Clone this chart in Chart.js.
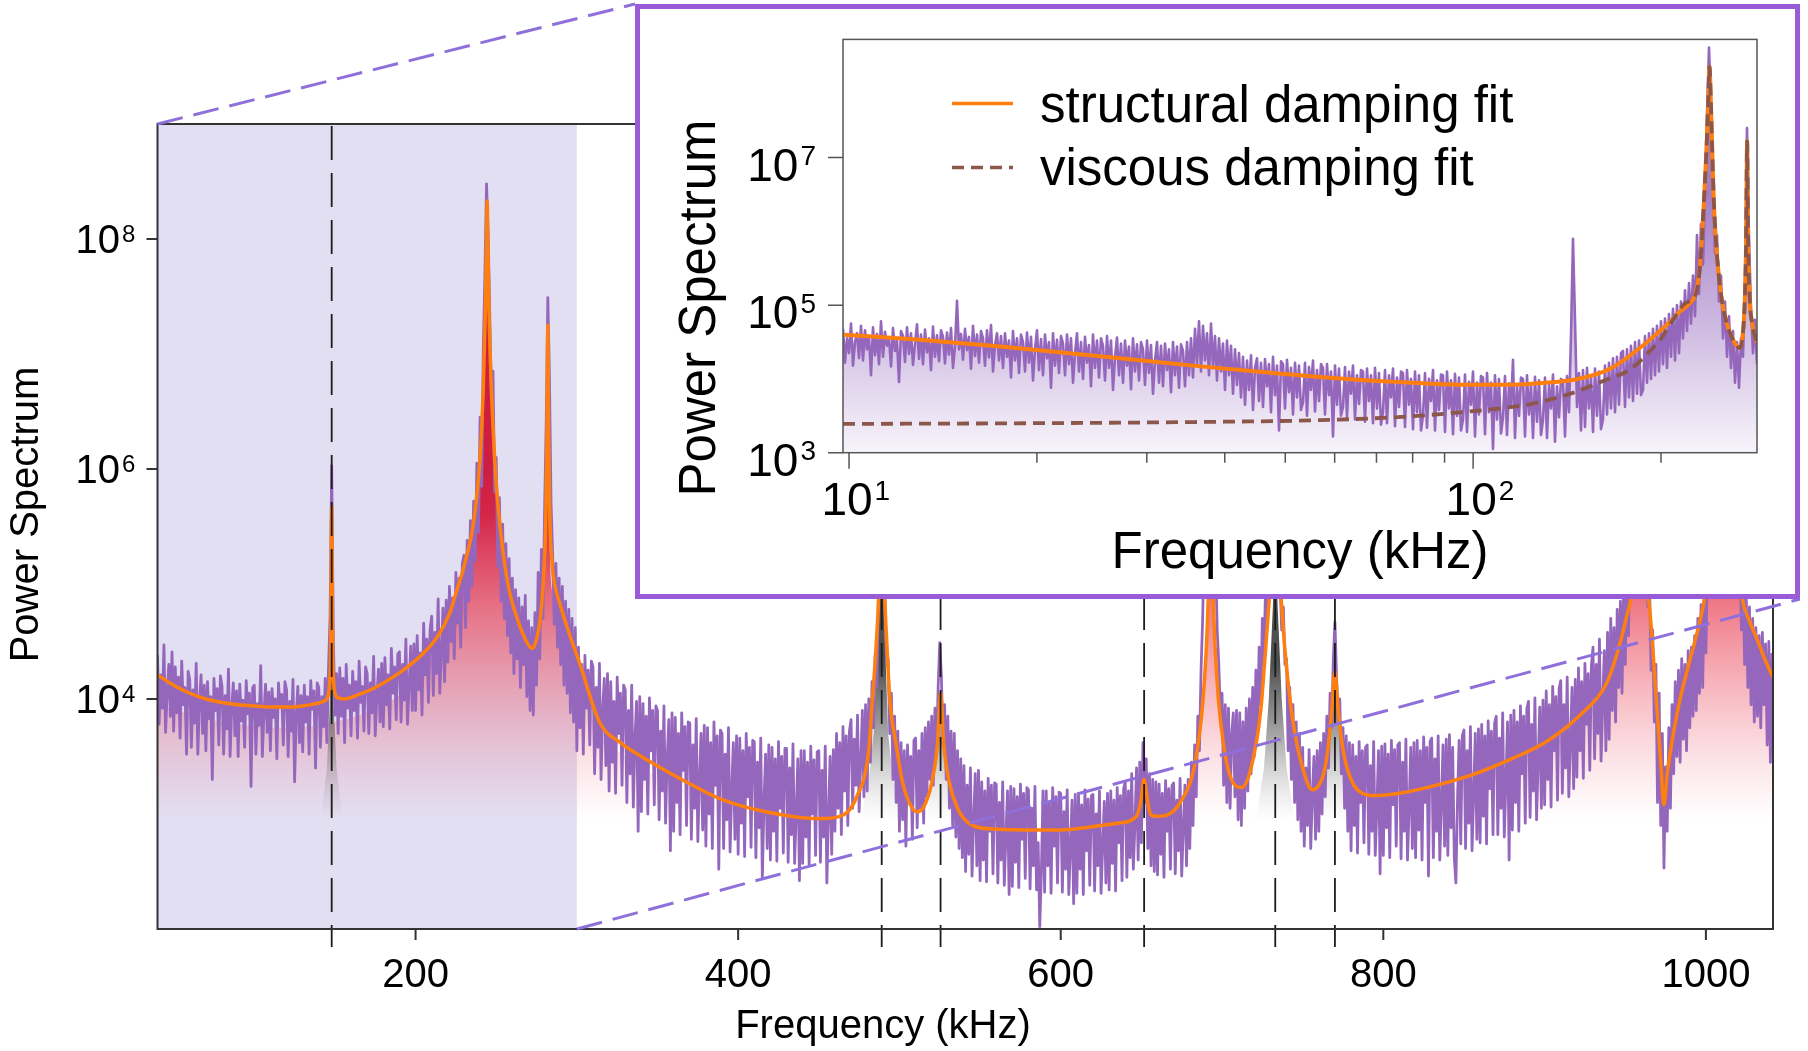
<!DOCTYPE html>
<html lang="en">
<head>
<meta charset="utf-8">
<title>Power spectrum with damping fits</title>
<script src="https://cdn.jsdelivr.net/npm/chart.js@4.4.1/dist/chart.umd.min.js"></script>
<style>
  html, body { margin: 0; padding: 0; background: #fff; }
  #stage { position: relative; width: 1808px; height: 1051px; overflow: hidden; background: #fff; }
  #main { position: absolute; left: 0; top: 0; }
  #insetBox { position: absolute; left: 635px; top: 4px; width: 1165px; height: 595px; box-sizing: border-box; border: 5px solid #9a5bd6; background: #fff; }
  #inset { position: absolute; left: 0; top: 0; }
</style>
</head>
<body>
<div id="stage">
  <canvas id="main" width="1808" height="1051"></canvas>
  <div id="insetBox"><canvas id="inset" width="1155" height="585"></canvas></div>
</div>
<script>
const FONT = '"Liberation Sans", Arial, Helvetica, sans-serif';

// ================= main panel: linear frequency axis =================
const MAIN_X_RANGE = [40, 1041.6];          // kHz
const MAIN_Y_RANGE = [1e2, 1e9];
const zoomBand = [40, 300];                 // region enlarged in the inset
const mainXTicks = [200, 400, 600, 800, 1000];
const mainYTickExponents = [4, 6, 8];
const modeLines = [148, 489, 525.5, 651.7, 733, 770];   // dashed resonance markers (kHz)

// measured spectrum, log10(power), one sample per kHz starting at 40 kHz
const SPEC_START_KHZ = 40;
const SPEC_STEP_KHZ = 1;
const spectrumLog = [
  4.38,3.78,4.21,3.92,4.47,3.71,4.05,4.30,3.85,4.41, // 40
  3.72,4.28,3.88,4.19,3.66,4.33,3.95,4.10,3.52,4.24, // 50
  4.17,3.58,4.08,3.79,4.31,3.52,3.97,4.21,3.70,4.12, // 60
  3.55,4.15,3.83,4.02,3.30,4.18,3.90,4.09,3.60,4.20, // 70
  4.11,3.52,4.03,3.74,4.26,3.50,3.92,4.14,3.68,4.07, // 80
  3.50,4.13,3.81,3.99,3.58,4.16,3.87,4.05,3.24,4.10, // 90
  4.12,3.52,3.96,3.77,4.29,3.50,3.88,4.13,3.71,4.06, // 100
  3.55,4.09,3.84,4.00,3.48,4.14,3.93,4.04,3.60,4.15, // 110
  4.08,3.50,3.98,3.72,4.17,3.28,3.86,4.11,3.62,4.03, // 120
  3.54,4.12,3.80,4.02,3.52,4.16,3.91,4.07,3.40,4.14, // 130
  4.10,3.58,4.02,3.76,4.18,3.62,4.25,4.72,6.03,4.55, // 140
  3.86,4.22,3.70,4.27,3.85,4.18,3.62,4.30,3.92,4.12, // 150
  3.68,4.24,3.90,4.15,3.66,4.33,3.97,4.11,3.72,4.28, // 160
  4.22,3.70,4.14,3.88,4.37,3.68,4.02,4.26,3.80,4.31, // 170
  3.76,4.36,3.95,4.21,3.74,4.44,4.05,4.28,3.82,4.39, // 180
  4.41,3.80,4.30,3.99,4.52,3.78,4.12,4.46,3.90,4.48, // 190
  3.90,4.55,4.08,4.40,3.86,4.66,4.21,4.52,3.97,4.60, // 200
  4.72,4.03,4.58,4.22,4.87,4.05,4.41,4.79,4.15,4.86, // 210
  4.32,4.98,4.50,4.88,4.35,5.10,4.66,5.05,4.45,5.18, // 220
  5.25,4.62,5.38,4.85,5.55,4.98,5.72,5.20,6.05,5.45, // 230
  6.45,5.85,7.05,7.70,8.48,8.05,7.35,6.60,6.85,5.80, // 240
  6.10,5.15,5.75,4.85,5.52,4.70,5.35,4.55,5.22,4.40, // 250
  5.05,4.22,4.95,4.35,4.88,4.10,4.80,4.30,4.90,4.02, // 260
  4.68,3.90,4.62,3.86,4.75,4.12,5.10,4.35,5.30,4.70, // 270
  5.65,6.40,7.49,6.80,5.70,5.25,4.65,5.18,4.45,5.05, // 280
  4.30,4.98,4.12,4.85,4.05,4.78,3.88,4.70,3.80,4.62, // 290
  3.55,4.45,3.75,4.30,3.52,4.38,3.92,4.25,3.60,4.33, // 300
  4.28,3.35,4.10,3.58,4.31,3.30,3.90,4.18,3.42,4.22, // 310
  3.20,4.15,3.45,3.98,3.18,4.19,3.70,4.05,3.25,4.12, // 320
  4.08,3.10,3.90,3.35,4.12,3.06,3.65,3.98,2.85,4.02, // 330
  3.02,3.96,3.30,3.85,3.00,4.01,3.55,3.90,3.08,3.94, // 340
  3.90,2.95,3.72,3.20,3.94,2.92,3.48,3.82,2.68,3.88, // 350
  2.85,3.84,3.10,3.70,2.82,3.88,3.38,3.76,2.90,3.80, // 360
  3.79,2.78,3.60,3.05,3.83,2.76,3.30,3.70,2.86,3.77, // 370
  2.72,3.75,3.00,3.62,2.70,3.80,3.25,3.68,2.52,3.73, // 380
  3.70,2.70,3.52,2.95,3.75,2.67,3.20,3.62,2.78,3.68, // 390
  2.65,3.66,2.92,3.55,2.63,3.70,3.15,3.58,2.71,3.64, // 400
  3.63,2.62,3.45,2.88,3.66,2.44,3.10,3.52,2.70,3.60, // 410
  2.60,3.58,2.85,3.48,2.59,3.63,3.05,3.50,2.66,3.57, // 420
  3.57,2.58,3.40,2.82,3.61,2.57,3.02,3.48,2.42,3.55, // 430
  2.57,3.55,2.80,3.45,2.56,3.59,3.00,3.47,2.64,3.54, // 440
  3.55,2.58,3.38,2.80,3.59,2.40,2.98,3.50,2.65,3.56, // 450
  2.85,3.70,3.05,3.62,2.82,3.76,3.20,3.68,2.90,3.72, // 460
  3.82,3.05,3.65,3.25,3.86,3.02,3.45,3.90,3.15,3.95, // 470
  3.20,4.00,3.45,4.15,3.75,4.40,4.10,4.90,5.50,6.20, // 480
  5.60,4.85,4.30,4.35,3.70,4.05,3.30,3.85,3.10,3.72, // 490
  2.85,3.62,2.95,3.55,2.72,3.60,3.10,3.50,2.78,3.64, // 500
  3.66,2.88,3.55,3.05,3.70,2.92,3.75,3.15,3.80,3.30, // 510
  3.85,3.25,3.92,3.55,4.10,4.49,4.20,3.60,3.95,3.30, // 520
  3.85,3.05,3.72,2.90,3.70,2.80,3.55,2.70,3.48,2.62, // 530
  3.42,2.50,3.25,2.65,3.40,2.46,2.95,3.35,2.55,3.38, // 540
  2.42,3.28,2.60,3.20,2.41,3.31,2.85,3.25,2.48,3.27, // 550
  3.26,2.40,3.10,2.60,3.28,2.38,2.80,3.20,2.30,3.24, // 560
  2.37,3.22,2.58,3.15,2.36,3.26,2.78,3.18,2.44,3.23, // 570
  3.21,2.35,3.05,2.55,3.24,2.34,2.75,2.02,2.50,3.20, // 580
  2.32,3.20,2.55,3.10,2.31,3.23,2.72,3.15,2.40,3.19, // 590
  3.18,2.32,3.02,2.52,3.21,2.30,2.70,3.12,2.22,3.17, // 600
  2.31,3.18,2.52,3.08,2.30,3.21,2.68,3.13,2.38,3.16, // 610
  3.17,2.33,3.00,2.55,3.20,2.31,2.72,3.11,2.40,3.18, // 620
  2.34,3.20,2.57,3.12,2.33,3.23,2.75,3.16,2.42,3.22, // 630
  3.28,2.45,3.20,2.62,3.35,2.52,2.90,3.40,2.60,3.45, // 640
  2.75,3.62,3.10,3.48,2.70,3.35,2.55,3.30,2.50,3.28, // 650
  2.47,3.26,2.65,3.18,2.45,3.29,2.85,3.22,2.52,3.25, // 660
  3.27,2.48,3.12,2.68,3.31,2.46,2.88,3.25,2.55,3.30, // 670
  2.70,3.45,2.90,3.60,3.15,3.85,3.55,4.25,4.70,5.40, // 680
  5.85,6.20,6.45,6.55,6.30,5.80,5.25,4.60,4.30,3.85, // 690
  4.05,3.25,3.95,3.10,3.92,3.05,3.70,3.88,3.15,3.90, // 700
  2.95,3.88,2.90,3.80,3.05,3.92,3.20,4.00,3.35,4.10, // 710
  3.50,4.25,3.70,4.45,3.95,4.70,4.30,5.00,4.70,5.30, // 720
  5.10,5.60,5.90,6.00,5.80,5.40,5.00,4.60,4.80,4.30, // 730
  4.35,3.55,4.10,3.30,3.95,3.10,3.80,2.95,3.70,2.85, // 740
  3.58,2.72,3.40,2.90,3.56,2.70,3.15,3.50,2.78,3.55, // 750
  2.85,3.62,3.00,3.70,3.15,3.85,3.40,4.05,3.75,4.35, // 760
  4.67,4.20,3.80,4.00,3.35,3.75,3.05,3.68,2.85,3.62, // 770
  2.68,3.60,2.90,3.50,2.66,3.63,3.10,3.55,2.75,3.58, // 780
  3.60,2.65,3.42,2.85,3.63,2.64,3.05,3.55,2.48,3.59, // 790
  2.64,3.61,2.88,3.52,2.62,3.64,3.08,3.56,2.72,3.60, // 800
  3.62,2.61,3.45,2.85,3.65,2.60,3.05,3.58,2.70,3.62, // 810
  2.62,3.64,2.86,3.55,2.60,3.67,3.10,3.58,2.46,3.63, // 820
  3.66,2.62,3.48,2.85,3.68,2.60,3.08,3.60,2.72,3.65, // 830
  2.64,3.69,2.88,3.58,2.62,2.40,3.12,3.64,2.74,3.68, // 840
  3.73,2.70,3.55,2.92,3.76,2.68,3.15,3.70,2.78,3.74, // 850
  2.75,3.78,2.98,3.68,2.74,3.81,3.22,3.72,2.82,3.79, // 860
  3.85,2.82,3.66,3.05,3.88,2.80,3.28,3.80,2.60,3.86, // 870
  2.86,3.90,3.10,3.80,2.85,3.94,3.35,3.85,2.92,3.92, // 880
  3.98,2.97,3.78,3.20,4.01,2.95,3.45,3.93,3.05,3.99, // 890
  3.08,4.07,3.30,3.95,3.06,4.11,3.55,4.02,3.12,4.09, // 900
  4.16,3.18,3.95,3.40,4.19,3.15,3.62,4.10,3.22,4.17, // 910
  3.32,4.27,3.55,4.15,3.31,4.31,3.78,4.22,3.38,4.29, // 920
  4.45,3.48,4.30,3.70,4.52,3.46,3.95,4.42,3.55,4.58, // 930
  3.65,4.70,3.90,4.62,3.80,4.78,4.10,4.85,4.05,5.00, // 940
  4.30,5.10,4.55,5.35,4.90,5.70,5.40,6.10,6.45,6.60, // 950
  6.35,5.85,5.30,5.50,4.80,5.05,4.25,4.60,3.80,4.30, // 960
  3.10,4.05,2.90,3.70,2.53,3.41,2.85,3.75,3.05,3.95, // 970
  3.35,4.15,3.50,4.25,3.45,4.35,3.65,4.30,3.55,4.42, // 980
  3.75,4.45,3.85,4.55,3.90,4.70,4.05,4.82,4.10,4.95, // 990
  4.40,5.30,4.95,5.60,5.20,5.85,5.35,6.00,5.40,6.10, // 1000
  5.45,6.15,5.50,6.10,5.40,6.00,5.30,5.85,5.15,5.65, // 1010
  4.95,5.40,4.60,5.10,4.30,4.90,4.10,4.80,3.95,4.70, // 1020
  3.80,4.62,3.85,4.55,3.75,4.58,3.95,4.48,3.60,4.50, // 1030
  3.45,4.40                                          // 1040
];

// structural damping fit, [kHz, log10(power)]
const fitCurve = [
  [40,4.21],[50,4.12],[60,4.05],[70,4.0],[80,3.97],[90,3.95],[100,3.94],[110,3.93],[122,3.93],[130,3.94],
  [138,3.96],[143,3.98],[145.5,4.02],[146.6,4.12],[147.4,4.45],[148,5.67],[148.6,4.45],[149.4,4.12],[151,4.02],
  [155.5,4.0],[165,4.04],[175,4.1],[186,4.19],[195,4.28],[205,4.4],[212,4.51],[218,4.65],[222,4.78],[225,4.92],
  [229,5.1],[232.5,5.29],[235,5.45],[237.7,5.73],[240,6.1],[242,6.7],[243.3,7.4],[244,8.0],[244.4,8.33],
  [244.8,8.0],[245.5,7.4],[247,6.7],[249,6.1],[251,5.7],[254,5.3],[258,4.95],[263,4.7],[267,4.55],[270,4.47],
  [272.4,4.44],[275,4.52],[277.5,4.72],[279.5,5.1],[280.8,5.6],[281.5,6.3],[282,7.25],[282.5,6.3],[283.2,5.6],
  [284.5,5.2],[286.5,4.98],[289,4.85],[295,4.58],[302,4.3],[314,3.8],[327,3.62],[340,3.5],[365,3.3],[391,3.12],
  [417,3.02],[450,2.96],[463,2.98],[473.5,3.15],[481,3.56],[483,3.95],[485.5,4.45],[487.3,4.95],[489,5.9],
  [490.7,4.95],[492.3,4.45],[494,4.0],[498,3.6],[502,3.27],[506,3.1],[510.7,3.02],[515,3.06],[520,3.27],
  [523.5,3.6],[525.5,4.05],[527.5,3.6],[531,3.27],[536,3.05],[543,2.92],[558,2.87],[597,2.86],[635,2.92],
  [647,2.98],[649.5,3.1],[651.7,3.3],[654,3.1],[656,2.99],[660,2.98],[674,3.1],[684,3.5],[689,4.14],
  [691.5,4.9],[693,6.0],[694.5,4.9],[697,4.14],[701,3.6],[705,3.33],[712,3.23],[718,3.4],[724,3.9],
  [727,4.43],[730,5.0],[733,5.6],[736,5.0],[739,4.43],[744,3.8],[750,3.4],[756,3.21],[760,3.25],[763,3.35],
  [765.6,3.56],[768,3.9],[770,4.24],[772,3.9],[775,3.56],[780,3.3],[787,3.18],[794,3.16],[810,3.18],
  [830,3.24],[855,3.34],[878,3.47],[900,3.62],[914,3.76],[925,3.9],[932,4.0],[938.6,4.14],[945,4.4],
  [950.7,4.71],[955,5.05],[957,5.6],[959,6.3],[961,5.6],[963,5.05],[965,4.8],[966.5,4.55],[968,4.25],
  [970,3.85],[972,3.45],[974,3.08],[976,3.35],[979.5,3.67],[984,4.0],[989,4.28],[996,4.66],[999,4.86],
  [1003,5.3],[1008,5.8],[1012,5.95],[1017,5.6],[1021,5.1],[1022.8,4.86],[1027,4.68],[1032,4.51],
  [1037,4.33],[1041.6,4.19]
];

// summed contribution of the unmarked resonances (red shading), [kHz, log10(power)]
const redModeFill = [
  [40,3.95],[80,3.8],[120,3.75],[150,3.8],[180,3.95],[200,4.15],[212,4.4],[222,4.7],[230,5.1],[236,5.5],
  [240,6.0],[242,6.6],[243.3,7.3],[244.4,8.25],[245.5,7.3],[247,6.6],[249,6.0],[252,5.5],[256,5.0],
  [262,4.6],[268,4.4],[272,4.35],[276,4.5],[279,4.9],[281,5.5],[282,7.2],[283,5.5],[285,4.9],[289,4.6],
  [295,4.3],[302,4.1],[314,3.7],[330,3.5],[360,3.25],[400,3.05],[450,2.9],[500,2.85],[600,2.8],[660,2.95],
  [680,3.2],[686,3.7],[690,4.5],[693,5.95],[696,4.5],[700,3.7],[706,3.2],[720,3.0],[760,2.95],[800,3.0],
  [850,3.25],[900,3.55],[925,3.85],[940,4.2],[948,4.6],[953,5.0],[956,5.5],[959,6.2],[962,5.5],[965,4.75],
  [968,4.15],[971,3.55],[974,3.05],[977,3.4],[982,3.85],[989,4.25],[996,4.6],[1002,5.2],[1010,5.85],
  [1018,5.5],[1024,4.8],[1030,4.5],[1041.6,4.15]
];

// marked resonances (grey shading), [kHz, log10(power)]
const greyModeFill = [
  [40,2],[133,2],[137,2.6],[141,2.9],[145,3.4],[147,4.0],[148,5.6],[149,4.0],[151,3.4],[155,2.9],[159,2.6],[163,2],
  [462,2],[470,2.6],[476,2.95],[481,3.3],[484,3.7],[486.5,4.5],[489,5.8],[491,4.5],[493,3.7],[496,3.3],
  [501,2.95],[507,2.7],[512,2.7],[517,2.95],[521,3.4],[524,3.85],[525.5,4.0],[527,3.85],[530,3.4],
  [534,2.95],[540,2.6],[548,2],
  [638,2],[645,2.6],[649,2.9],[651.7,3.25],[654.5,2.9],[658,2.6],[665,2],
  [705,2],[714,2.6],[721,2.95],[726,3.4],[729,4.0],[731.5,4.8],[733,5.5],[734.5,4.8],[737,4.0],[740,3.4],
  [745,2.95],[751,2.75],[756,2.8],[760,3.0],[764,3.4],[767.5,3.85],[770,4.2],[772.5,3.85],[776,3.4],
  [780,3.0],[786,2.7],[793,2.4],[800,2],[1041.6,2]
];

// ================= inset: logarithmic frequency axis =================
const INSET_X_RANGE = [9.78, 285];          // kHz
const INSET_Y_RANGE = [1e3, 4e8];
const insetYTickExponents = [3, 5, 7];
const insetXMajor = [10, 100];
const insetXMinor = [20, 30, 40, 50, 60, 70, 80, 90, 200];

// measured spectrum, log10(power), on a log-spaced frequency grid spanning INSET_X_RANGE
const insetSpectrumLog = [
  4.68,4.22,4.55,4.35,4.75,4.18,4.50,4.62,4.28,4.72,
  4.25,4.66,4.40,4.58,4.05,4.70,4.32,4.61,4.20,4.78,
  4.30,4.64,4.45,4.56,4.17,4.69,4.38,4.52,3.96,4.65,
  4.58,4.23,4.70,4.34,4.62,4.19,4.48,4.74,4.27,4.60,
  4.20,4.67,4.36,4.55,4.12,4.71,4.30,4.59,4.24,4.66,
  4.57,4.21,4.63,4.33,4.69,4.15,4.44,5.06,4.40,4.61,
  4.26,4.68,4.39,4.57,4.14,4.72,4.31,4.60,4.22,4.65,
  4.55,4.18,4.66,4.29,4.73,4.10,4.46,4.62,4.25,4.58,
  4.15,4.62,4.30,4.52,4.02,4.65,4.25,4.55,4.08,4.60,
  4.50,4.10,4.63,4.22,4.57,3.98,4.40,4.66,4.12,4.54,
  4.05,4.60,4.28,4.50,3.88,4.62,4.18,4.53,4.08,4.58,
  4.48,4.05,4.60,4.20,4.55,3.95,4.35,4.62,4.10,4.50,
  4.00,4.57,4.22,4.46,3.90,4.60,4.15,4.52,4.02,4.55,
  4.45,3.98,4.58,4.15,4.52,3.85,4.30,4.56,4.05,4.48,
  3.95,4.52,4.18,4.44,3.86,4.55,4.10,4.47,3.98,4.50,
  4.40,3.92,4.52,4.08,4.46,3.80,4.25,4.50,3.95,4.45,
  3.90,4.48,4.12,4.40,3.82,4.50,4.05,4.44,3.88,4.47,
  4.38,3.90,4.50,4.05,4.55,4.02,4.68,4.20,4.78,4.10,
  4.72,4.25,4.62,4.05,4.75,4.15,4.58,3.98,4.55,4.10,
  4.48,3.85,4.52,4.05,4.45,3.80,4.40,3.92,4.35,3.75,
  4.30,3.65,4.25,3.85,4.32,3.58,4.15,4.28,3.70,4.22,
  3.62,4.27,3.90,4.20,3.55,4.30,3.78,4.18,3.30,4.24,
  4.20,3.60,4.26,3.82,4.15,3.52,4.22,3.75,4.18,3.58,
  3.68,4.22,3.50,4.16,3.85,4.25,3.56,4.12,3.70,4.20,
  4.15,3.52,4.20,3.78,4.10,3.22,4.18,3.65,4.14,3.50,
  3.62,4.16,3.48,4.10,3.80,4.18,3.45,4.05,3.66,4.12,
  4.10,3.42,4.14,3.70,4.05,3.40,4.15,3.60,4.08,3.38,
  3.55,4.12,3.40,4.05,3.75,4.14,3.36,4.02,3.62,4.10,
  4.08,3.35,4.12,3.65,4.00,3.32,4.10,3.55,4.05,3.30,
  3.50,4.08,3.34,4.00,3.70,4.12,3.30,3.98,3.58,4.06,
  4.05,3.28,4.10,3.60,3.98,3.25,4.07,3.50,4.02,3.30,
  3.45,4.06,3.28,3.96,3.65,4.10,3.22,3.95,3.52,4.04,
  4.02,3.25,4.08,3.55,3.95,3.05,4.05,3.45,4.00,3.26,
  3.48,4.04,3.24,3.94,3.62,4.26,3.20,3.92,3.50,4.02,
  4.00,3.22,4.05,3.52,3.92,3.20,4.03,3.42,3.98,3.24,
  3.45,4.02,3.20,3.92,3.60,4.06,3.15,3.90,3.48,4.00,
  3.98,3.22,4.04,3.55,4.60,5.90,4.80,3.62,4.08,3.30,
  4.12,3.35,4.15,3.60,4.05,3.28,4.14,3.50,4.10,3.32,
  3.45,4.18,3.52,4.22,3.60,4.28,3.55,4.30,3.65,4.35,
  4.38,3.62,4.40,3.75,4.45,3.70,4.50,3.80,4.52,3.78,
  3.85,4.58,3.95,4.62,4.00,4.68,4.05,4.72,4.10,4.78,
  4.20,4.82,4.15,4.88,4.30,4.95,4.25,5.00,4.35,5.05,
  4.55,5.20,4.65,5.30,4.75,5.40,4.85,5.95,5.15,6.10,
  5.55,6.50,7.60,8.49,7.70,6.60,5.70,5.95,5.05,5.40,
  4.55,5.05,4.30,4.85,4.15,4.65,3.95,4.50,3.88,4.55,
  4.30,5.30,7.40,5.90,4.95,4.35,4.80,4.20
];

const structuralFit = [
  [9.78,4.60],[13,4.53],[17.5,4.44],[25,4.31],[36.6,4.17],[45,4.1],[56,4.03],[75,3.96],[99,3.92],[115,3.92],
  [131.7,3.95],[145,3.99],[152.6,4.03],[165,4.13],[176,4.28],[190,4.5],[203.5,4.72],[215,4.92],[222,5.02],
  [227,5.15],[231,5.55],[234.3,6.4],[236.5,7.1],[238.2,7.8],[239.2,8.23],[240.3,7.8],[241.8,7.0],[242.8,6.5],
  [245,5.85],[249.8,5.12],[256,4.7],[262,4.5],[267,4.42],[270,4.55],[272.6,5.12],[273.8,5.9],[274.8,7.22],
  [275.8,5.9],[277.3,5.12],[280,4.75],[285,4.49]
];

const viscousFit = [
  [9.78,3.39],[20,3.40],[40,3.42],[56,3.44],[74.6,3.48],[99,3.56],[123.6,3.66],[142,3.79],[164.6,4.0],
  [178,4.12],[189.6,4.33],[201,4.57],[209,4.8],[219,5.03],[227,5.13],[231,5.53],[234.3,6.4],[236.5,7.1],
  [238.2,7.8],[239.2,8.23],[240.3,7.8],[241.8,7.0],[242.8,6.5],[245,5.85],[249.8,5.12],[256,4.7],[262,4.5],
  [267,4.42],[270,4.55],[272.6,5.12],[273.8,5.9],[274.8,7.22],[275.8,5.9],[277.3,5.12],[280,4.75],[285,4.49]
];

// ---------------- helpers ----------------
const pairsToPoints = pairs => pairs.map(([f, e]) => ({ x: f, y: Math.pow(10, e) }));

const spectrumPoints = spectrumLog.map((e, i) => ({ x: SPEC_START_KHZ + i * SPEC_STEP_KHZ, y: Math.pow(10, e) }));

const insetPoints = insetSpectrumLog.map((e, i) => {
  const t = i / (insetSpectrumLog.length - 1);
  const f = INSET_X_RANGE[0] * Math.pow(INSET_X_RANGE[1] / INSET_X_RANGE[0], t);
  return { x: f, y: Math.pow(10, e) };
});

function verticalGradient(context, fromExp, toExp, stops) {
  const chart = context.chart;
  if (!chart.chartArea) return 'rgba(0,0,0,0)';
  const y = chart.scales.y;
  const g = chart.ctx.createLinearGradient(0, y.getPixelForValue(Math.pow(10, fromExp)), 0, y.getPixelForValue(Math.pow(10, toExp)));
  stops.forEach(([o, c]) => g.addColorStop(o, c));
  return g;
}

const redShade = c => verticalGradient(c, 6.0, 2.95, [
  [0, 'rgba(205,30,65,1)'], [0.131, 'rgba(212,38,72,1)'], [0.41, 'rgba(232,55,75,0.63)'],
  [0.623, 'rgba(235,65,85,0.38)'], [0.82, 'rgba(235,80,100,0.17)'], [1, 'rgba(235,100,120,0)']
]);
const greyShade = c => verticalGradient(c, 4.3, 2.95, [
  [0, 'rgba(60,60,60,0.9)'], [0.45, 'rgba(90,90,90,0.55)'], [0.8, 'rgba(130,130,130,0.18)'], [1, 'rgba(150,150,150,0)']
]);
const purpleShade = c => verticalGradient(c, 6.5, 3.0, [
  [0, 'rgba(148,103,189,0.85)'], [1, 'rgba(148,103,189,0.07)']
]);

function drawPower(ctx, exp, anchorX, baseY, supY, bigPx, smallPx, align) {
  ctx.font = `${bigPx}px ${FONT}`;
  ctx.textAlign = 'left';
  const w = ctx.measureText('10').width;
  const left = align === 'right' ? anchorX - w : anchorX - w / 2;
  ctx.fillText('10', left, baseY);
  ctx.font = `${smallPx}px ${FONT}`;
  ctx.fillText(String(exp), left + w + 2, supY);
}

// ---------------- main panel decorations ----------------
const mainDecor = {
  id: 'mainDecor',
  beforeDatasetsDraw(chart) {
    const { ctx, chartArea: a, scales: { x } } = chart;
    const x0 = x.getPixelForValue(zoomBand[0]);
    const x1 = x.getPixelForValue(zoomBand[1]);
    ctx.save();
    ctx.fillStyle = 'rgb(227,223,242)';
    ctx.fillRect(x0, a.top, x1 - x0, a.bottom - a.top);
    ctx.restore();
  },
  afterDatasetsDraw(chart) {
    const { ctx, chartArea: a, scales: { x, y } } = chart;
    ctx.save();

    // dashed resonance markers
    ctx.strokeStyle = '#1c1c1c';
    ctx.lineWidth = 1.8;
    ctx.setLineDash([34, 13]);
    ctx.lineDashOffset = 12;
    modeLines.forEach(f => {
      const px = x.getPixelForValue(f);
      ctx.beginPath();
      ctx.moveTo(px, a.bottom + 18);
      ctx.lineTo(px, a.top);
      ctx.stroke();
    });
    ctx.setLineDash([]);
    ctx.lineDashOffset = 0;

    // frame and ticks
    ctx.strokeStyle = '#333';
    ctx.lineWidth = 2;
    ctx.strokeRect(a.left, a.top, a.right - a.left, a.bottom - a.top);
    ctx.beginPath();
    mainXTicks.forEach(v => {
      const px = x.getPixelForValue(v);
      ctx.moveTo(px, a.bottom);
      ctx.lineTo(px, a.bottom + 11);
    });
    mainYTickExponents.forEach(e => {
      const py = y.getPixelForValue(Math.pow(10, e));
      ctx.moveTo(a.left - 11, py);
      ctx.lineTo(a.left, py);
    });
    ctx.stroke();

    // tick labels
    ctx.fillStyle = '#000';
    ctx.textBaseline = 'alphabetic';
    ctx.font = `40px ${FONT}`;
    ctx.textAlign = 'center';
    mainXTicks.forEach(v => ctx.fillText(String(v), x.getPixelForValue(v), a.bottom + 58));
    mainYTickExponents.forEach(e => {
      const py = y.getPixelForValue(Math.pow(10, e));
      drawPower(ctx, e, a.left - 37.5, py + 14.3, py + 2.9, 40, 24, 'right');
    });

    // axis titles
    ctx.font = `40px ${FONT}`;
    ctx.textAlign = 'center';
    ctx.fillText('Frequency (kHz)', 883, 1038);
    ctx.save();
    ctx.translate(38, 514.5);
    ctx.rotate(-Math.PI / 2);
    ctx.fillText('Power Spectrum', 0, 0);
    ctx.restore();

    // connectors from the enlarged band to the inset frame
    const box = document.getElementById('insetBox');
    const bl = box.offsetLeft, bt = box.offsetTop;
    const br = bl + box.offsetWidth, bb = bt + box.offsetHeight;
    ctx.strokeStyle = 'rgb(143,112,219)';
    ctx.lineWidth = 3;
    ctx.setLineDash([26, 11]);
    ctx.beginPath();
    ctx.moveTo(x.getPixelForValue(zoomBand[0]), a.top);
    ctx.lineTo(bl, bt);
    ctx.stroke();
    ctx.beginPath();
    ctx.moveTo(x.getPixelForValue(zoomBand[1]), a.bottom);
    ctx.lineTo(br, bb);
    ctx.stroke();
    ctx.restore();
  }
};

new Chart(document.getElementById('main'), {
  type: 'line',
  data: {
    datasets: [
      { label: 'structural damping fit', data: pairsToPoints(fitCurve), borderColor: '#ff7f0e', borderWidth: 3.5,
        pointRadius: 0, fill: false, cubicInterpolationMode: 'monotone', order: 1 },
      { label: 'power spectrum', data: spectrumPoints, borderColor: '#9467bd', borderWidth: 2.8,
        borderJoinStyle: 'round', pointRadius: 0, fill: false, order: 2 },
      { label: 'marked resonances', data: pairsToPoints(greyModeFill), borderColor: 'rgba(0,0,0,0)', borderWidth: 0,
        pointRadius: 0, fill: 'start', backgroundColor: greyShade, order: 3 },
      { label: 'other resonances', data: pairsToPoints(redModeFill), borderColor: 'rgba(0,0,0,0)', borderWidth: 0,
        pointRadius: 0, fill: 'start', backgroundColor: redShade, cubicInterpolationMode: 'monotone', order: 4 }
    ]
  },
  options: {
    responsive: false,
    animation: false,
    devicePixelRatio: 1,
    events: [],
    layout: { padding: { top: 124, right: 35, left: 0, bottom: 0 } },
    plugins: { legend: { display: false }, tooltip: { enabled: false } },
    scales: {
      x: { type: 'linear', min: MAIN_X_RANGE[0], max: MAIN_X_RANGE[1],
           grid: { display: false }, border: { display: false }, ticks: { display: false },
           afterFit: s => { s.height = 122; } },
      y: { type: 'logarithmic', min: MAIN_Y_RANGE[0], max: MAIN_Y_RANGE[1],
           grid: { display: false }, border: { display: false }, ticks: { display: false },
           afterFit: s => { s.width = 157.5; } }
    }
  },
  plugins: [mainDecor]
});

// ---------------- inset decorations ----------------
const insetDecor = {
  id: 'insetDecor',
  afterDatasetsDraw(chart) {
    const { ctx, chartArea: a, scales: { x, y } } = chart;
    ctx.save();
    ctx.strokeStyle = '#555';
    ctx.lineWidth = 1.5;
    ctx.strokeRect(a.left, a.top, a.right - a.left, a.bottom - a.top);
    ctx.beginPath();
    insetYTickExponents.forEach(e => {
      const py = y.getPixelForValue(Math.pow(10, e));
      ctx.moveTo(a.left - 15, py);
      ctx.lineTo(a.left, py);
    });
    insetXMajor.forEach(v => {
      const px = x.getPixelForValue(v);
      ctx.moveTo(px, a.bottom);
      ctx.lineTo(px, a.bottom + 16);
    });
    insetXMinor.forEach(v => {
      const px = x.getPixelForValue(v);
      ctx.moveTo(px, a.bottom);
      ctx.lineTo(px, a.bottom + 10);
    });
    ctx.stroke();

    ctx.fillStyle = '#000';
    ctx.textBaseline = 'alphabetic';
    insetYTickExponents.forEach(e => {
      const py = y.getPixelForValue(Math.pow(10, e));
      drawPower(ctx, e, a.left - 44.6, py + 23.1, py + 7.5, 46, 28, 'right');
    });
    insetXMajor.forEach(v => {
      const px = x.getPixelForValue(v);
      drawPower(ctx, Math.round(Math.log10(v)), px - 2, a.bottom + 61.8, a.bottom + 46.8, 46, 28, 'center');
    });

    // axis titles
    ctx.font = `51px ${FONT}`;
    ctx.textAlign = 'center';
    ctx.fillText('Frequency (kHz)', (a.left + a.right) / 2, a.bottom + 115.3);
    ctx.save();
    ctx.translate(74.5, 299);
    ctx.rotate(-Math.PI / 2);
    ctx.fillText('Power Spectrum', 0, 0);
    ctx.restore();

    // legend
    const entries = [
      { ds: chart.data.datasets[1], lineY: 94.5, textY: 112.5 },
      { ds: chart.data.datasets[0], lineY: 158.5, textY: 175.5 }
    ];
    entries.forEach(({ ds, lineY, textY }) => {
      ctx.strokeStyle = ds.borderColor;
      ctx.lineWidth = 3.5;
      ctx.setLineDash(ds.borderDash || []);
      ctx.beginPath();
      ctx.moveTo(312, lineY);
      ctx.lineTo(373, lineY);
      ctx.stroke();
      ctx.setLineDash([]);
      ctx.font = `51px ${FONT}`;
      ctx.textAlign = 'left';
      ctx.fillText(ds.label, 400, textY);
    });
    ctx.restore();
  }
};

new Chart(document.getElementById('inset'), {
  type: 'line',
  data: {
    datasets: [
      { label: 'viscous damping fit', data: pairsToPoints(viscousFit), borderColor: '#8c564b', borderWidth: 3.8,
        borderDash: [12, 7], pointRadius: 0, fill: false, cubicInterpolationMode: 'monotone', order: 0 },
      { label: 'structural damping fit', data: pairsToPoints(structuralFit), borderColor: '#ff7f0e', borderWidth: 4,
        pointRadius: 0, fill: false, cubicInterpolationMode: 'monotone', order: 1 },
      { label: 'power spectrum', data: insetPoints, borderColor: '#9467bd', borderWidth: 2.6, borderJoinStyle: 'round',
        pointRadius: 0, fill: 'start', backgroundColor: purpleShade, order: 2 }
    ]
  },
  options: {
    responsive: false,
    animation: false,
    devicePixelRatio: 1,
    events: [],
    layout: { padding: { top: 30.4, right: 38, left: 0, bottom: 0 } },
    plugins: { legend: { display: false }, tooltip: { enabled: false } },
    scales: {
      x: { type: 'logarithmic', min: INSET_X_RANGE[0], max: INSET_X_RANGE[1],
           grid: { display: false }, border: { display: false }, ticks: { display: false },
           afterFit: s => { s.height = 141.3; } },
      y: { type: 'logarithmic', min: INSET_Y_RANGE[0], max: INSET_Y_RANGE[1],
           grid: { display: false }, border: { display: false }, ticks: { display: false },
           afterFit: s => { s.width = 203; } }
    }
  },
  plugins: [insetDecor]
});
</script>
</body>
</html>
